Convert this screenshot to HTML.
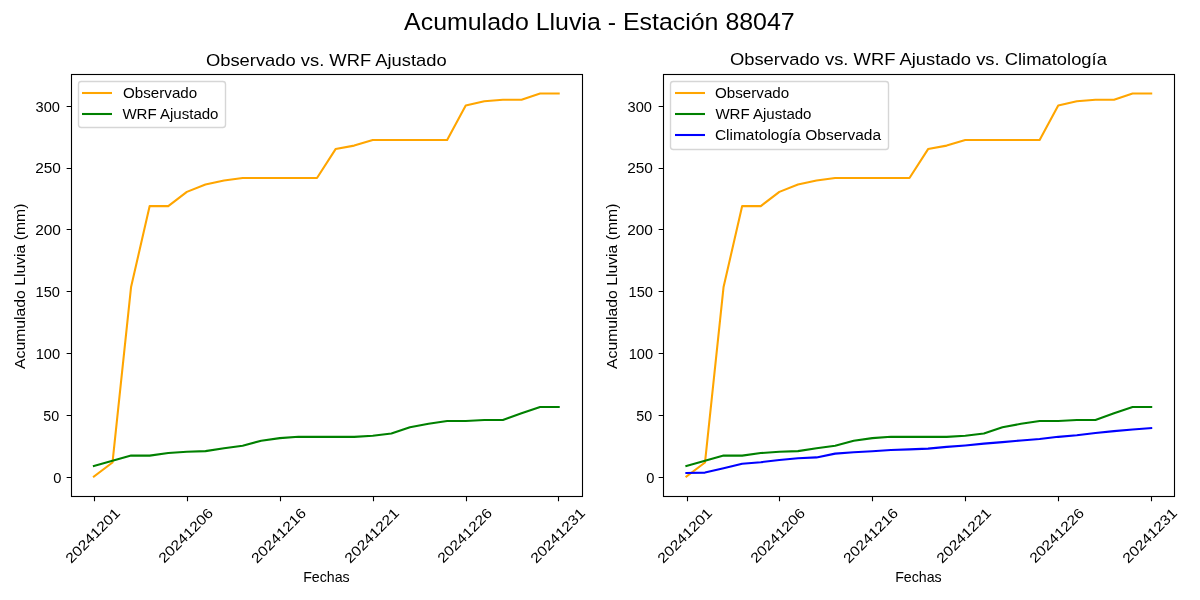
<!DOCTYPE html>
<html><head><meta charset="utf-8"><title>Acumulado Lluvia - Estación 88047</title>
<style>html,body{margin:0;padding:0;background:#fff;width:1200px;height:600px;overflow:hidden}svg{display:block;will-change:transform;font-family:"Liberation Sans",sans-serif}</style>
</head><body>
<svg width="1200" height="600" viewBox="0 0 1200 600">
<rect x="0" y="0" width="1200" height="600" fill="#ffffff"/>
<defs>
<clipPath id="c0"><rect x="70.653" y="73.83" width="511.275" height="422.23"/></clipPath>
<clipPath id="c1"><rect x="663.153" y="73.83" width="511.275" height="422.23"/></clipPath>
</defs>
<polyline clip-path="url(#c0)" points="93.893,476.483 112.484,462.532 131.076,286.972 149.668,206.105 168.26,206.105 186.852,191.907 205.444,184.5 224.035,180.426 242.627,177.956 261.219,177.956 279.811,177.956 298.403,177.956 316.994,177.956 335.586,149.067 354.178,145.61 372.77,140.054 391.362,140.054 409.954,140.054 428.545,140.054 447.137,140.054 465.729,105.485 484.321,101.288 502.913,99.806 521.505,99.806 540.096,93.51 558.688,93.51" fill="none" stroke="#ffa500" stroke-width="2.083" stroke-linejoin="round" stroke-linecap="square"/>
<polyline clip-path="url(#c0)" points="93.893,465.989 112.484,460.803 131.076,455.495 149.668,455.618 168.26,453.075 186.852,451.729 205.444,451.112 224.035,448.272 242.627,445.679 261.219,440.741 279.811,438.148 298.403,436.79 316.994,436.852 335.586,436.852 354.178,436.852 372.77,435.741 391.362,433.58 409.954,427.284 428.545,423.827 447.137,420.987 465.729,420.987 484.321,420 502.913,420 521.505,413.333 540.096,407.036 558.688,407.036" fill="none" stroke="#008000" stroke-width="2.083" stroke-linejoin="round" stroke-linecap="square"/>
<rect x="71.5" y="74.5" width="511" height="422" fill="none" stroke="#000" stroke-width="1.111" stroke-linejoin="miter"/>
<path d="M94.5,496.5V501.361M187.5,496.5V501.361M280.5,496.5V501.361M373.5,496.5V501.361M466.5,496.5V501.361M558.5,496.5V501.361M71.5,106.5H66.639M71.5,168.5H66.639M71.5,229.5H66.639M71.5,291.5H66.639M71.5,353.5H66.639M71.5,415.5H66.639M71.5,477.5H66.639" stroke="#000" stroke-width="1.111" fill="none"/>
<rect x="78.5" y="81.5" width="147" height="46" rx="2.78" ry="2.78" fill="#ffffff" fill-opacity="0.8" stroke="#cccccc" stroke-opacity="0.8" stroke-width="1.389"/>
<line x1="82" y1="93" x2="112" y2="93" stroke="#ffa500" stroke-width="2.083" stroke-linecap="butt"/>
<line x1="82" y1="114" x2="112" y2="114" stroke="#008000" stroke-width="2.083" stroke-linecap="butt"/>
<polyline clip-path="url(#c1)" points="686.393,476.483 704.984,462.532 723.576,286.972 742.168,206.105 760.76,206.105 779.352,191.907 797.944,184.5 816.535,180.426 835.127,177.956 853.719,177.956 872.311,177.956 890.903,177.956 909.494,177.956 928.086,149.067 946.678,145.61 965.27,140.054 983.862,140.054 1002.454,140.054 1021.045,140.054 1039.637,140.054 1058.229,105.485 1076.821,101.288 1095.413,99.806 1114.005,99.806 1132.596,93.51 1151.188,93.51" fill="none" stroke="#ffa500" stroke-width="2.083" stroke-linejoin="round" stroke-linecap="square"/>
<polyline clip-path="url(#c1)" points="686.393,465.989 704.984,460.803 723.576,455.495 742.168,455.618 760.76,453.075 779.352,451.729 797.944,451.112 816.535,448.272 835.127,445.679 853.719,440.741 872.311,438.148 890.903,436.79 909.494,436.852 928.086,436.852 946.678,436.852 965.27,435.741 983.862,433.58 1002.454,427.284 1021.045,423.827 1039.637,420.987 1058.229,420.987 1076.821,420 1095.413,420 1114.005,413.333 1132.596,407.036 1151.188,407.036" fill="none" stroke="#008000" stroke-width="2.083" stroke-linejoin="round" stroke-linecap="square"/>
<polyline clip-path="url(#c1)" points="686.393,473.026 704.984,472.606 723.576,468.26 742.168,463.816 760.76,462.198 779.352,460.075 797.944,458.334 816.535,457.396 835.127,453.618 853.719,452.285 872.311,451.309 890.903,450.025 909.494,449.371 928.086,448.63 946.678,446.902 965.27,445.42 983.862,443.642 1002.454,442.124 1021.045,440.469 1039.637,439.037 1058.229,436.84 1076.821,435.247 1095.413,432.926 1114.005,431.099 1132.596,429.444 1151.188,428.086" fill="none" stroke="#0000ff" stroke-width="2.083" stroke-linejoin="round" stroke-linecap="square"/>
<rect x="663.5" y="74.5" width="511" height="422" fill="none" stroke="#000" stroke-width="1.111" stroke-linejoin="miter"/>
<path d="M687.5,496.5V501.361M779.5,496.5V501.361M872.5,496.5V501.361M965.5,496.5V501.361M1058.5,496.5V501.361M1151.5,496.5V501.361M663.5,106.5H658.639M663.5,168.5H658.639M663.5,229.5H658.639M663.5,291.5H658.639M663.5,353.5H658.639M663.5,415.5H658.639M663.5,477.5H658.639" stroke="#000" stroke-width="1.111" fill="none"/>
<rect x="670.5" y="81.5" width="218" height="68" rx="2.78" ry="2.78" fill="#ffffff" fill-opacity="0.8" stroke="#cccccc" stroke-opacity="0.8" stroke-width="1.389"/>
<line x1="675" y1="93" x2="705" y2="93" stroke="#ffa500" stroke-width="2.083" stroke-linecap="butt"/>
<line x1="675" y1="114" x2="705" y2="114" stroke="#008000" stroke-width="2.083" stroke-linecap="butt"/>
<line x1="675" y1="135" x2="705" y2="135" stroke="#0000ff" stroke-width="2.083" stroke-linecap="butt"/>
<text transform="matrix(1.122,0,0,1.045,404.071,29.59)" font-family="Liberation Sans, sans-serif" font-size="22.222" fill="#000">Acumulado Lluvia - Estación 88047</text>
<text transform="translate(92.677,535.575) rotate(-45) scale(1.144,1.01) translate(-30.9,4.85)" font-family="Liberation Sans, sans-serif" font-size="13.889" fill="#000">20241201</text>
<text transform="translate(185.615,535.408) rotate(-45) scale(1.14,1.01) translate(-30.95,4.85)" font-family="Liberation Sans, sans-serif" font-size="13.889" fill="#000">20241206</text>
<text transform="translate(278.648,535.4) rotate(-45) scale(1.143,1.01) translate(-30.95,4.85)" font-family="Liberation Sans, sans-serif" font-size="13.889" fill="#000">20241216</text>
<text transform="translate(371.677,535.575) rotate(-45) scale(1.144,1.01) translate(-30.9,4.85)" font-family="Liberation Sans, sans-serif" font-size="13.889" fill="#000">20241221</text>
<text transform="translate(464.615,535.408) rotate(-45) scale(1.14,1.01) translate(-30.95,4.85)" font-family="Liberation Sans, sans-serif" font-size="13.889" fill="#000">20241226</text>
<text transform="translate(557.677,535.575) rotate(-45) scale(1.144,1.01) translate(-30.9,4.85)" font-family="Liberation Sans, sans-serif" font-size="13.889" fill="#000">20241231</text>
<text transform="matrix(1.058,0,0,1.05,53.324,483.118)" font-family="Liberation Sans, sans-serif" font-size="13.889" fill="#000">0</text>
<text transform="matrix(1.027,0,0,1.034,43.356,421.131)" font-family="Liberation Sans, sans-serif" font-size="13.889" fill="#000">50</text>
<text transform="matrix(1.056,0,0,1.053,35.659,358.899)" font-family="Liberation Sans, sans-serif" font-size="13.889" fill="#000">100</text>
<text transform="matrix(1.054,0,0,1.01,35.576,296.899)" font-family="Liberation Sans, sans-serif" font-size="13.889" fill="#000">150</text>
<text transform="matrix(1.113,0,0,1.019,35.141,234.898)" font-family="Liberation Sans, sans-serif" font-size="13.889" fill="#000">200</text>
<text transform="matrix(1.112,0,0,1.01,35.194,172.899)" font-family="Liberation Sans, sans-serif" font-size="13.889" fill="#000">250</text>
<text transform="matrix(1.053,0,0,1.047,35.506,112.106)" font-family="Liberation Sans, sans-serif" font-size="13.889" fill="#000">300</text>
<text transform="matrix(1.102,0,0,0.942,205.891,65.557)" font-family="Liberation Sans, sans-serif" font-size="16.667" fill="#000">Observado vs. WRF Ajustado</text>
<text transform="matrix(1.023,0,0,1.067,303.157,581.894)" font-family="Liberation Sans, sans-serif" font-size="13.889" fill="#000">Fechas</text>
<text transform="translate(21.19,286.695) rotate(-90) scale(1.134,1.051) translate(-72.5,3.6)" font-family="Liberation Sans, sans-serif" font-size="13.889" fill="#000">Acumulado Lluvia (mm)</text>
<text transform="matrix(1.092,0,0,0.993,123.059,97.917)" font-family="Liberation Sans, sans-serif" font-size="13.889" fill="#000">Observado</text>
<text transform="matrix(1.084,0,0,1.101,122.38,118.535)" font-family="Liberation Sans, sans-serif" font-size="13.889" fill="#000">WRF Ajustado</text>
<text transform="translate(684.677,535.575) rotate(-45) scale(1.144,1.01) translate(-30.9,4.85)" font-family="Liberation Sans, sans-serif" font-size="13.889" fill="#000">20241201</text>
<text transform="translate(777.615,535.408) rotate(-45) scale(1.14,1.01) translate(-30.95,4.85)" font-family="Liberation Sans, sans-serif" font-size="13.889" fill="#000">20241206</text>
<text transform="translate(870.648,535.4) rotate(-45) scale(1.143,1.01) translate(-30.95,4.85)" font-family="Liberation Sans, sans-serif" font-size="13.889" fill="#000">20241216</text>
<text transform="translate(963.677,535.575) rotate(-45) scale(1.144,1.01) translate(-30.9,4.85)" font-family="Liberation Sans, sans-serif" font-size="13.889" fill="#000">20241221</text>
<text transform="translate(1056.615,535.408) rotate(-45) scale(1.14,1.01) translate(-30.95,4.85)" font-family="Liberation Sans, sans-serif" font-size="13.889" fill="#000">20241226</text>
<text transform="translate(1149.677,535.575) rotate(-45) scale(1.144,1.01) translate(-30.9,4.85)" font-family="Liberation Sans, sans-serif" font-size="13.889" fill="#000">20241231</text>
<text transform="matrix(1.058,0,0,1.05,646.324,483.118)" font-family="Liberation Sans, sans-serif" font-size="13.889" fill="#000">0</text>
<text transform="matrix(1.027,0,0,1.034,636.356,421.131)" font-family="Liberation Sans, sans-serif" font-size="13.889" fill="#000">50</text>
<text transform="matrix(1.056,0,0,1.053,628.659,358.899)" font-family="Liberation Sans, sans-serif" font-size="13.889" fill="#000">100</text>
<text transform="matrix(1.054,0,0,1.01,628.576,296.899)" font-family="Liberation Sans, sans-serif" font-size="13.889" fill="#000">150</text>
<text transform="matrix(1.113,0,0,1.019,627.141,234.898)" font-family="Liberation Sans, sans-serif" font-size="13.889" fill="#000">200</text>
<text transform="matrix(1.112,0,0,1.01,627.194,172.899)" font-family="Liberation Sans, sans-serif" font-size="13.889" fill="#000">250</text>
<text transform="matrix(1.053,0,0,1.047,627.506,112.106)" font-family="Liberation Sans, sans-serif" font-size="13.889" fill="#000">300</text>
<text transform="matrix(1.104,0,0,0.957,729.908,65.395)" font-family="Liberation Sans, sans-serif" font-size="16.667" fill="#000">Observado vs. WRF Ajustado vs. Climatología</text>
<text transform="matrix(1.023,0,0,1.067,895.157,581.894)" font-family="Liberation Sans, sans-serif" font-size="13.889" fill="#000">Fechas</text>
<text transform="translate(613.19,286.695) rotate(-90) scale(1.134,1.051) translate(-72.5,3.6)" font-family="Liberation Sans, sans-serif" font-size="13.889" fill="#000">Acumulado Lluvia (mm)</text>
<text transform="matrix(1.092,0,0,0.993,715.059,97.917)" font-family="Liberation Sans, sans-serif" font-size="13.889" fill="#000">Observado</text>
<text transform="matrix(1.084,0,0,1.101,715.38,118.535)" font-family="Liberation Sans, sans-serif" font-size="13.889" fill="#000">WRF Ajustado</text>
<text transform="matrix(1.116,0,0,1.086,714.903,139.625)" font-family="Liberation Sans, sans-serif" font-size="13.889" fill="#000">Climatología Observada</text>
</svg>
</body></html>
